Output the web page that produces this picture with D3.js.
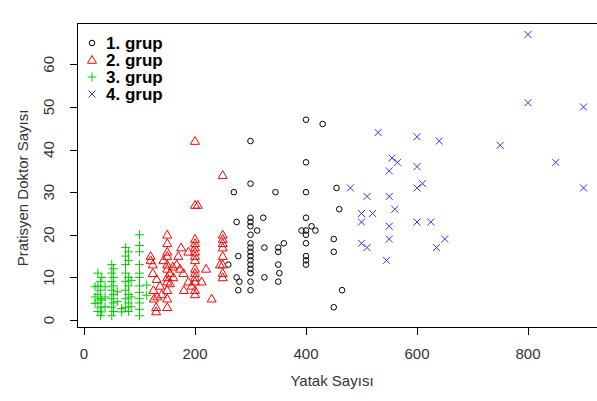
<!DOCTYPE html>
<html>
<head>
<meta charset="utf-8">
<script src="https://cdn.jsdelivr.net/npm/d3@7"></script>
<style>
  html, body { margin: 0; padding: 0; background: #fff; }
  svg { display: block; font-family: "Liberation Sans", Arial, sans-serif; }
</style>
</head>
<body>
<script>
// Veriler: [yatak sayısı, pratisyen doktor sayısı]
const grup1 = [
  [400,47],[430,46],[300,42],[400,37],[300,32],[270,30],[345,30],[400,30],[455,31],[460,26],
  [400,24],[323,24],[275,23],[300,24],[300,23],[300,22],[300,20],[300,18],[300,17],[300,16],
  [300,15],[300,14],[300,13],[300,12],[300,11],[300,9],[300,7],[312,21],[325,17],[278,15],
  [260,13],[275,10],[280,9],[278,7],[325,10],[350,17],[360,18],[350,16],[350,13],[352,11],
  [350,9],[400,21],[392,21],[410,22],[417,21],[400,20],[400,18],[400,15],[400,14],[400,13],
  [450,19],[450,16],[465,7],[450,3]
];
const grup2 = [
  [200,42],[250,34],[200,27],[205,27],[150,20],[150,18],[150,16],[150,15],[150,13],[150,12],
  [150,10],[150,9],[150,7],[150,5],[150,3],[175,17],[170,15],[120,15],[120,14],[124,11],
  [126,5],[130,3],[140,6],[200,19],[200,18],[200,17],[200,16],[200,15],[200,14],[200,12],
  [200,11],[200,10],[200,9],[200,7],[200,6],[250,20],[250,19],[250,18],[250,17],[250,15],
  [250,13],[250,11],[250,10],[245,13],[220,12],[230,5],[188,16],[180,7],[212,9],[173,12],
  [167,13],[160,12.5],[143,14],[155,11],[161,10],[155,8.6],[137,8],[131,9.6],[188,9],[179,11],
  [125,7],[194,8],[130,2],[132,5.5],[124,13]
];
const grup3 = [
  [25,11],[25,8],[25,6],[25,4],[25,2],[30,9],[30,7],[30,5],[30,3],[30,1],
  [50,13],[50,11],[50,9],[50,7],[50,5],[50,3],[50,1],[53,12],[53,10],[53,8],[53,6],[53,4],[53,2],
  [75,17],[75,15],[75,13],[75,11],[75,9],[75,7],[75,5],[75,3],[80,16],[80,14],[80,10],[80,8],[80,6],[80,4],[80,2],
  [100,20],[100,17.5],[100,16],[100,13],[100,11],[100,10],[100,8],[100,6.5],[100,5],[100,4],[100,2.5],[100,1],
  [38,7.8],[38,5.4],[38,3.1],[60,6.6],[60,4.3],[85,9.3],[85,5.4],[85,3.1],[113,8.2],[113,5.8],
  [32,10],[32,4.7],[32,1.9],[20,7.8],[20,5.4],[20,3.9],[68,2.7],[68,1.9]
];
const grup4 = [
  [530,44],[600,43],[640,42],[555,38],[565,37],[550,35],[600,36],[610,32],[600,31],[510,29],
  [550,29],[560,26],[520,25],[500,25],[500,23],[550,22],[600,23],[625,23],[650,19],[635,17],
  [550,19],[500,18],[510,17],[545,14],[480,31],[800,67],[800,51],[900,50],[750,41],[850,37],[900,31]
];
const xTicks = [0, 200, 400, 600, 800];
const yTicks = [0, 10, 20, 30, 40, 50, 60];
const legendLabels = ["1. grup", "2. grup", "3. grup", "4. grup"];

const width = 597, height = 401;
const x = d3.scaleLinear().domain([-11.7, 940]).range([77.5, 605.7]);
const y = d3.scaleLinear().domain([-1.76, 69.7]).range([327.5, 23]);

const svg = d3.select("body").append("svg")
  .attr("width", width)
  .attr("height", height);

// Çerçeve
svg.append("rect")
  .attr("x", 77.5).attr("y", 23.5)
  .attr("width", 540).attr("height", 304)
  .attr("fill", "none")
  .attr("stroke", "#000")
  .attr("stroke-width", 1);

// Eksenler
const xAxis = svg.append("g");
xAxis.selectAll("line")
  .data(xTicks)
  .join("line")
  .attr("x1", d => Math.round(x(d)) + 0.5).attr("x2", d => Math.round(x(d)) + 0.5)
  .attr("y1", 327.5).attr("y2", 335)
  .attr("stroke", "#000");
xAxis.selectAll("text")
  .data(xTicks)
  .join("text")
  .attr("x", d => x(d))
  .attr("y", 359)
  .attr("text-anchor", "middle")
  .attr("font-size", 15)
  .attr("fill", "#333")
  .text(d => d);

const yAxis = svg.append("g");
yAxis.selectAll("line")
  .data(yTicks)
  .join("line")
  .attr("x1", 70).attr("x2", 77.5)
  .attr("y1", d => Math.round(y(d)) + 0.5).attr("y2", d => Math.round(y(d)) + 0.5)
  .attr("stroke", "#000");
yAxis.selectAll("text")
  .data(yTicks)
  .join("text")
  .attr("transform", d => `translate(54,${y(d)}) rotate(-90)`)
  .attr("text-anchor", "middle")
  .attr("font-size", 15)
  .attr("fill", "#333")
  .text(d => d);

svg.append("text")
  .attr("x", 332).attr("y", 386)
  .attr("text-anchor", "middle")
  .attr("font-size", 15)
  .attr("fill", "#333")
  .text("Yatak Sayısı");

svg.append("text")
  .attr("transform", "translate(28,188) rotate(-90)")
  .attr("text-anchor", "middle")
  .attr("font-size", 15)
  .attr("fill", "#333")
  .text("Pratisyen Doktor Sayısı");

// İşaretler
const triangle = "M0,-4.5L4.5,3.3L-4.5,3.3Z";
const plus = "M-4.5,0H4.5M0,-4.5V4.5";
const cross = "M-3.5,-3.5L3.5,3.5M-3.5,3.5L3.5,-3.5";

function drawGroup(data, shape, color) {
  const g = svg.append("g");
  if (shape === "circle") {
    g.selectAll("circle")
      .data(data)
      .join("circle")
      .attr("cx", d => x(d[0]))
      .attr("cy", d => y(d[1]))
      .attr("r", 2.8)
      .attr("fill", "none")
      .attr("stroke", color)
      .attr("stroke-width", 1);
  } else {
    g.selectAll("path")
      .data(data)
      .join("path")
      .attr("transform", d => `translate(${x(d[0])},${y(d[1])})`)
      .attr("d", shape)
      .attr("fill", "none")
      .attr("stroke", color)
      .attr("stroke-width", 1);
  }
}

drawGroup(grup1, "circle", "#000");
drawGroup(grup2, triangle, "#ff0000");
drawGroup(grup3, plus, "#00cd00");
drawGroup(grup4, cross, "#3333ff");

// Lejant
const legendShapes = ["circle", triangle, plus, cross];
const legendColors = ["#000", "#ff0000", "#00cd00", "#3333ff"];
const legend = svg.append("g");
legendLabels.forEach((lab, i) => {
  const cy = 43 + i * 17;
  if (legendShapes[i] === "circle") {
    legend.append("circle")
      .attr("cx", 92).attr("cy", cy).attr("r", 2.8)
      .attr("fill", "none").attr("stroke", legendColors[i]);
  } else {
    legend.append("path")
      .attr("transform", `translate(92,${cy})`)
      .attr("d", legendShapes[i])
      .attr("fill", "none").attr("stroke", legendColors[i]);
  }
  legend.append("text")
    .attr("x", 106).attr("y", cy + 6)
    .attr("font-size", 17)
    .attr("font-weight", "bold")
    .attr("fill", "#000")
    .text(lab);
});
</script>
</body>
</html>
